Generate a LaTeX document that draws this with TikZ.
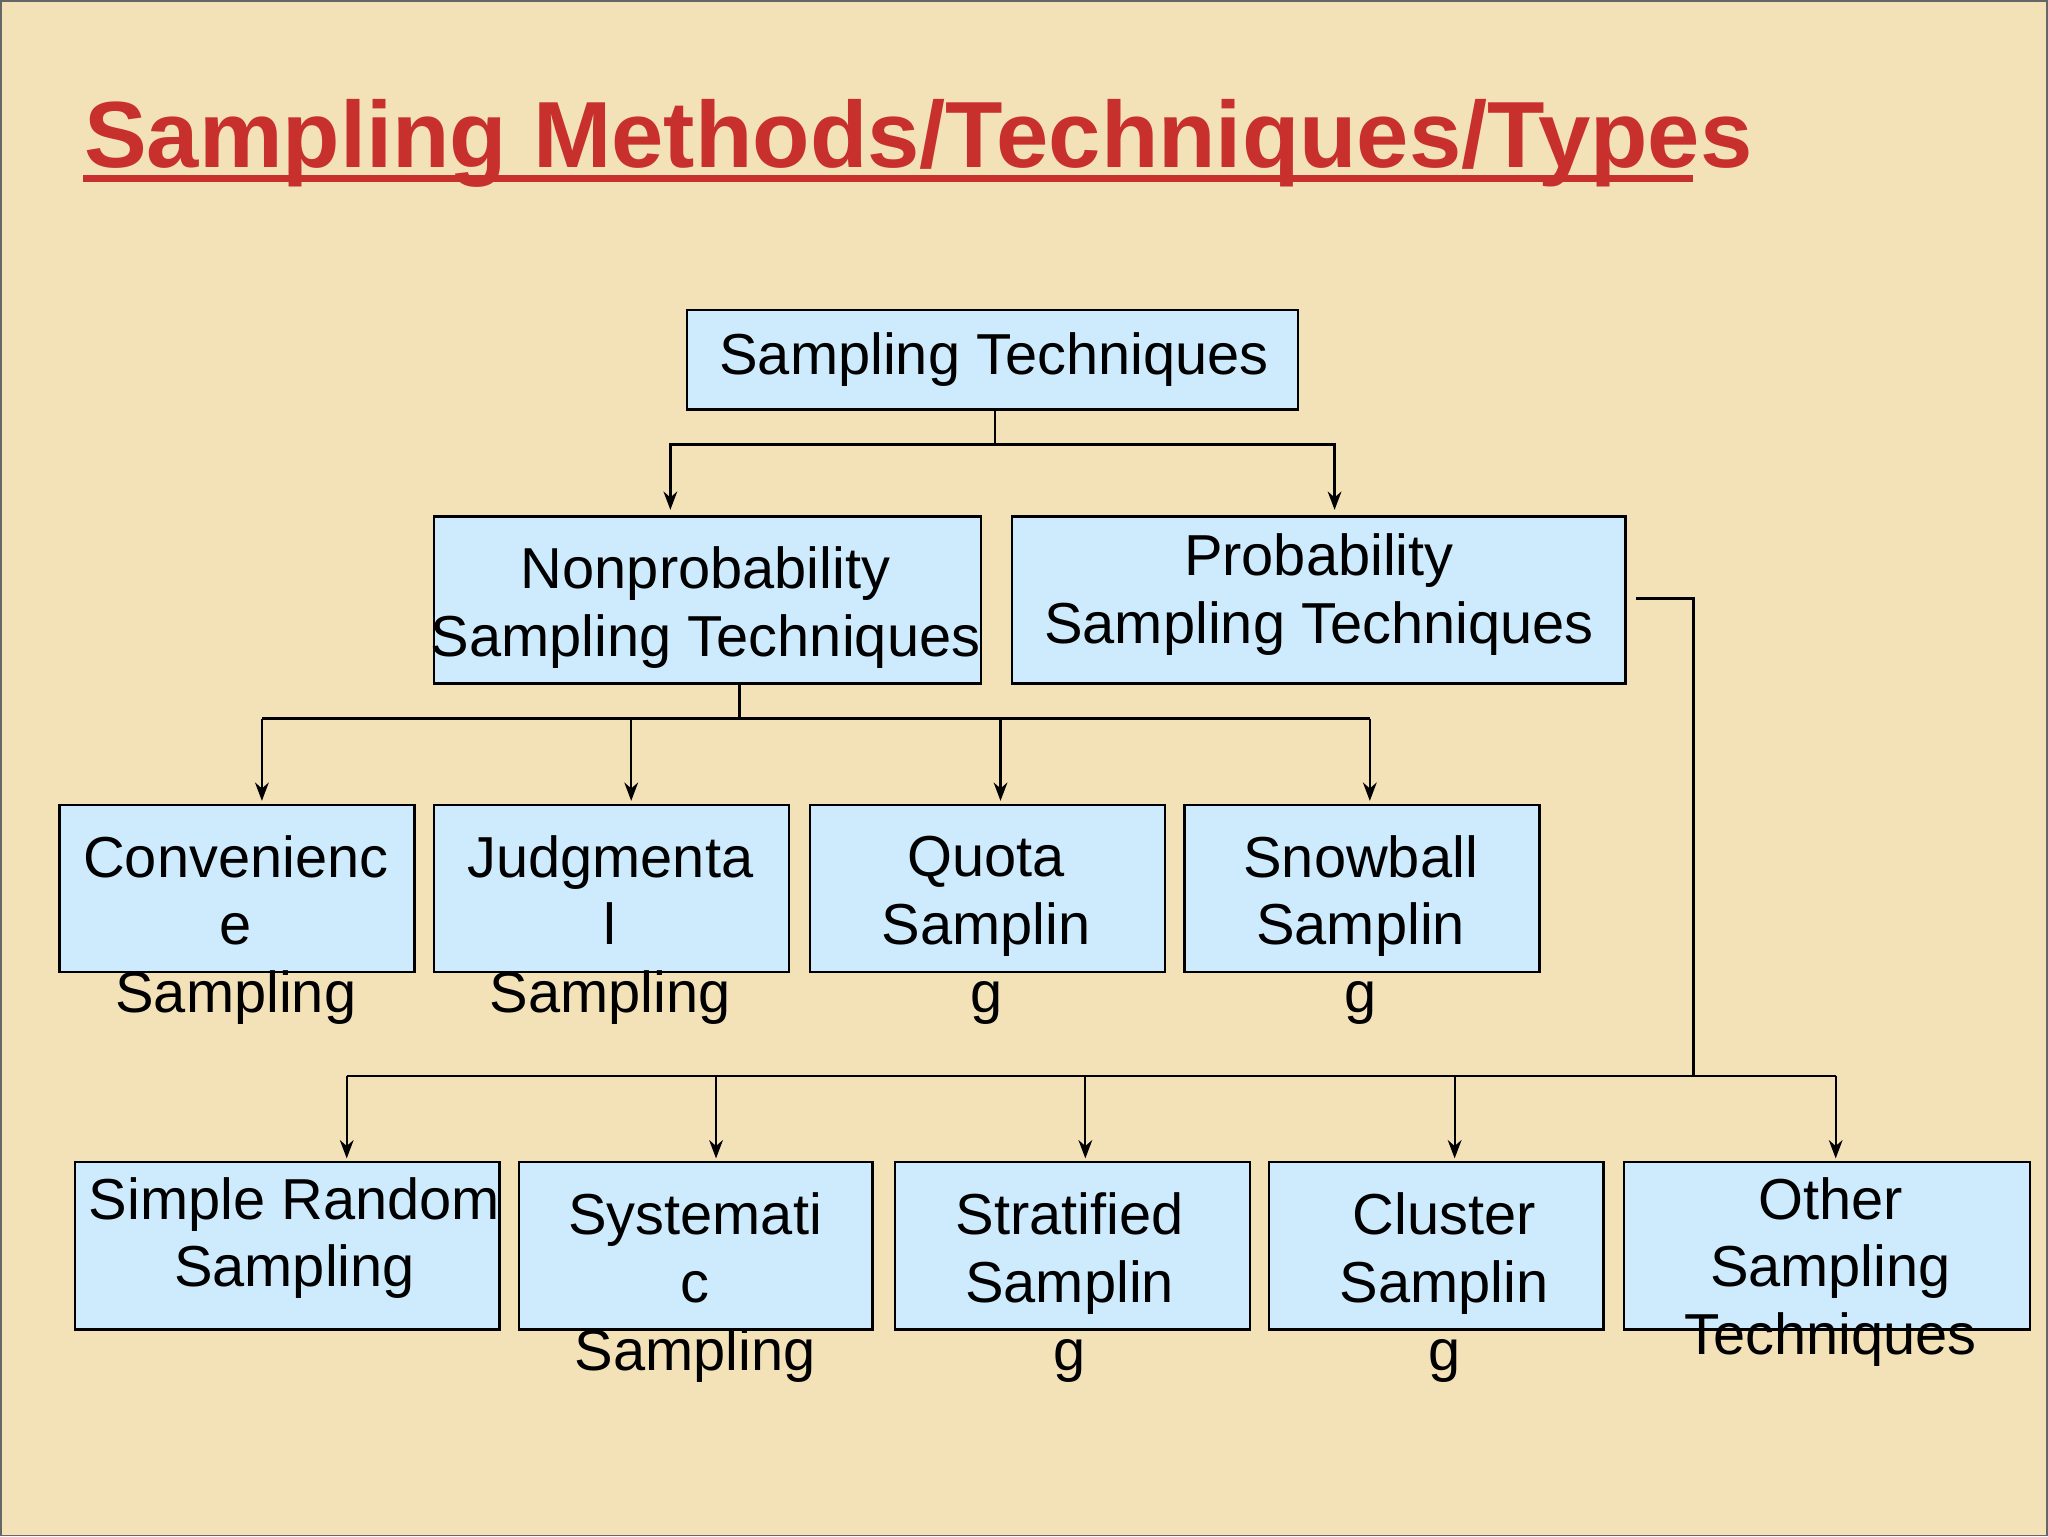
\documentclass[tikz,border=0pt]{standalone}
\usepackage{fontspec}
\setmainfont{Liberation Sans}
\usetikzlibrary{arrows.meta}
\definecolor{bg}{HTML}{F3E1B8}
\definecolor{bx}{HTML}{CDEBFD}
\definecolor{ttl}{HTML}{C8302E}
\tikzset{
 bxs/.style={draw=black,fill=bx,line width=0.5pt,inner sep=0pt},
 txt/.style={align=center,font=\fontsize{12.6}{14.8}\selectfont,inner sep=0pt},
 ln/.style={line width=0.5pt},
 ar/.style={ln,-{Stealth[length=4pt,width=3pt]}}
}
\newcommand{\bxat}[5]{\node[bxs,minimum width=#3cm-#1cm,minimum height=#5cm-#4cm] (#2) at ({(#1+#3)/2},{-(#4+#5)/2}) {};}
\begin{document}
\begin{tikzpicture}[x=1cm,y=1cm]
\fill[bg,draw=black!60] (0,0) rectangle (15.68,-11.76);
\useasboundingbox (0,0) rectangle (15.68,-11.76);
\node[anchor=base west,inner sep=0pt,text=ttl,font=\fontsize{20.5}{24}\selectfont\bfseries] (title) at (0.63,-1.28) {Sampling Methods/Techniques/Types};
\draw[ttl,line width=1.6pt] (0.63,-1.36) -- (12.97,-1.36);
% boxes
\bxat{5.26}{top}{9.94}{2.37}{3.13}
\bxat{3.32}{np}{7.51}{3.95}{5.23}
\bxat{7.75}{pr}{12.45}{3.95}{5.23}
\bxat{0.45}{cv}{3.17}{6.16}{7.44}
\bxat{3.32}{jd}{6.04}{6.16}{7.44}
\bxat{6.20}{qt}{8.92}{6.16}{7.44}
\bxat{9.07}{sb}{11.79}{6.16}{7.44}
\bxat{0.57}{sr}{3.82}{8.90}{10.18}
\bxat{3.97}{sy}{6.68}{8.90}{10.18}
\bxat{6.85}{st}{9.57}{8.90}{10.18}
\bxat{9.72}{cl}{12.28}{8.90}{10.18}
\bxat{12.44}{ot}{15.55}{8.90}{10.18}
% texts
\node[txt] (ttop) at (7.61,-2.75) {Sampling Techniques};
\node[txt] (tnp) at (5.40,-4.65) {Nonprobability\\Sampling Techniques};
\node[txt] (tpr) at (10.10,-4.55) {Probability\\Sampling Techniques};
\node[txt] (tcv) at (1.80,-7.12) {Convenienc\\e\\Sampling};
\node[txt] (tjd) at (4.67,-7.12) {Judgmenta\\l\\Sampling};
\node[txt] (tqt) at (7.55,-7.12) {Quota\\Samplin\\g};
\node[txt] (tsb) at (10.42,-7.12) {Snowball\\Samplin\\g};
\node[txt] (tsr) at (2.25,-9.48) {Simple Random\\Sampling};
\node[txt] (tsy) at (5.32,-9.86) {Systemati\\c\\Sampling};
\node[txt] (tst) at (8.19,-9.86) {Stratified\\Samplin\\g};
\node[txt] (tcl) at (11.06,-9.86) {Cluster\\Samplin\\g};
\node[txt] (tot) at (14.02,-9.74) {Other\\Sampling\\Techniques};
% connectors
\coordinate (j1) at (7.62,-3.40);
\draw[ln] (top.south -| j1) -- (j1);
\draw[ar] (j1) -- (5.13,-3.40) -- (5.13,-3.90);
\draw[ar] (j1) -- (10.22,-3.40) -- (10.22,-3.90);
\coordinate (j2) at (5.66,-5.50);
\draw[ln] (np.south -| j2) -- (j2);
\draw[ln] (2.00,-5.50) -- (10.49,-5.50);
\foreach \x in {2.00,4.83,7.66,10.49} \draw[ar] (\x,-5.50) -- (\x,-6.13);
\coordinate (j3) at (12.97,-8.24);
\draw[ln] (12.53,-4.58) -- (12.97,-4.58) -- (j3);
\draw[ln] (2.65,-8.24) -- (14.06,-8.24);
\foreach \x in {2.65,5.48,8.31,11.14,14.06} \draw[ar] (\x,-8.24) -- (\x,-8.87);
\end{tikzpicture}
\end{document}
